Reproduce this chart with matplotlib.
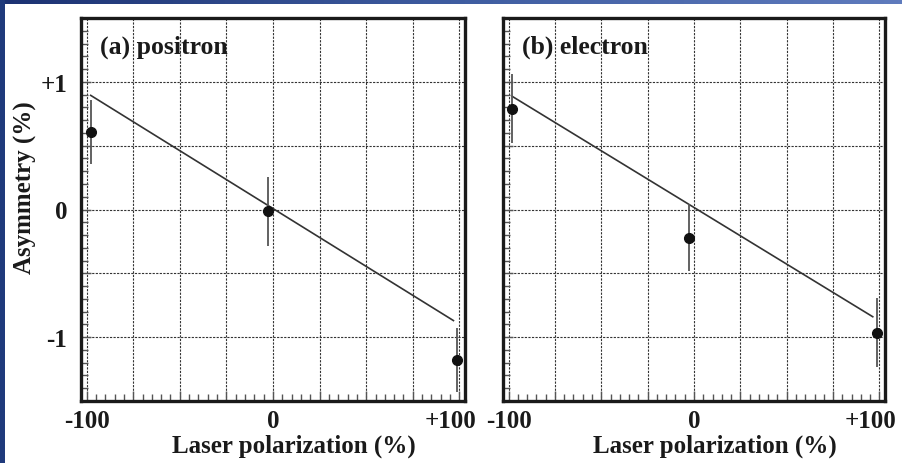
"""Beam-polarization asymmetry vs laser polarization (positron / electron)."""
import matplotlib

matplotlib.use("Agg")
import matplotlib.pyplot as plt  # noqa: E402
import numpy as np  # noqa: E402
from matplotlib.transforms import ScaledTranslation  # noqa: E402
from matplotlib.ticker import FuncFormatter, MultipleLocator, NullFormatter  # noqa: E402

# --------------------------------------------------------------------------- #
# Data
# --------------------------------------------------------------------------- #
panel_labels = ["(a) positron", "(b) electron"]

pol_pos = [-97.8, -2.7, 98.9]
asym_pos = [0.61, -0.015, -1.18]
err_pos = [0.25, 0.27, 0.25]
fit_x_pos = [-97.8, 96.8]
fit_y_pos = [0.894, -0.87]

pol_ele = [-98.0, -2.7, 98.5]
asym_ele = [0.79, -0.22, -0.965]
err_ele = [0.27, 0.26, 0.27]
fit_x_ele = [-98.0, 96.4]
fit_y_ele = [0.886, -0.84]

x_labels = {-100: "-100", 0: "0", 100: "+100"}
y_labels = {-1: "-1", 0: "0", 1: "+1"}

SERIF = ["Liberation Serif", "DejaVu Serif"]
INK = "#1a1a1a"
plt.rcParams.update({
    "font.family": SERIF,
    "font.weight": "bold",
    "axes.labelweight": "bold",
})


def fmt_x(v, _pos):
    return x_labels.get(int(round(v)), "")


def fmt_y(v, _pos):
    if abs(v - round(v)) > 1e-6:
        return ""
    return y_labels.get(int(round(v)), "")


def draw_panel(ax, x, y, err, fx, fy, label, ylabels=True):
    ax.set_xlim(-103, 103)
    ax.set_ylim(-1.5, 1.5)
    ax.xaxis.set_major_locator(MultipleLocator(25))
    ax.xaxis.set_minor_locator(MultipleLocator(5))
    ax.yaxis.set_major_locator(MultipleLocator(0.5))
    ax.yaxis.set_minor_locator(MultipleLocator(0.1))
    ax.xaxis.set_major_formatter(FuncFormatter(fmt_x))
    ax.yaxis.set_major_formatter(FuncFormatter(fmt_y) if ylabels
                                 else NullFormatter())
    ax.tick_params(which="both", direction="in", top=False, right=False,
                   labelsize=18, width=1.0, color="#555555",
                   labelcolor=INK)
    ax.tick_params(which="major", length=7)
    ax.tick_params(which="minor", length=5)
    ax.tick_params(axis="x", pad=6)
    ax.tick_params(axis="y", pad=10)
    ax.grid(True, which="major", color="#333333", lw=0.8,
            ls=(0, (2.0, 1.2)))
    for sp in ax.spines.values():
        sp.set_linewidth(2.4)
        sp.set_color(INK)

    ax.plot(fx, fy, color="#333333", lw=1.2, zorder=3)
    ax.errorbar(x, y, yerr=err, fmt="o", color="#111111", ms=7,
                ecolor="#555555", elinewidth=1.3, capsize=0, zorder=4,
                clip_on=False)
    ax.text(0.05, 0.925, label, transform=ax.transAxes, fontsize=18.5,
            fontweight="bold", va="center", ha="left", color=INK)
    ax.text(0.555, -0.133, "Laser polarization (%)", transform=ax.transAxes,
            fontsize=18, fontweight="bold", ha="center", va="baseline",
            color=INK)


W, H = 902, 464
fig = plt.figure(figsize=(W / 100, H / 100), dpi=100)
fig.patch.set_facecolor("white")

# slide frame: blue strip along the top and left edge
bg = fig.add_axes([0, 0, 1, 1], zorder=-10)
bg.axis("off")
grad = np.linspace(0, 1, 256).reshape(1, -1)
bg.imshow(grad, extent=[0, W, 5, 0], aspect="auto",
          cmap=matplotlib.colors.LinearSegmentedColormap.from_list(
              "frame", ["#1c3272", "#3e5ca0", "#5f7bbd"]))
bg.imshow(np.zeros((2, 2)), extent=[0, 5, H, 0], aspect="auto",
          cmap=matplotlib.colors.ListedColormap(["#1f3a7c"]))
bg.set_xlim(0, W)
bg.set_ylim(H, 0)

ax1 = fig.add_axes([81 / W, 1 - 402 / H, 384 / W, 383 / H])
ax2 = fig.add_axes([503 / W, 1 - 402 / H, 382 / W, 383 / H])

draw_panel(ax1, pol_pos, asym_pos, err_pos, fit_x_pos, fit_y_pos,
           panel_labels[0])
draw_panel(ax2, pol_ele, asym_ele, err_ele, fit_x_ele, fit_y_ele,
           panel_labels[1], ylabels=False)

fig.text(25 / W, 1 - 188 / H, "Asymmetry (%)", rotation=90, fontsize=18,
         fontweight="bold", ha="center", va="center", color=INK)

# the "+100" labels sit a little left of their tick in the original
fig.canvas.draw()
nudge = ScaledTranslation(-9 / 100, 0, fig.dpi_scale_trans)
for ax in (ax1, ax2):
    for tick in ax.xaxis.get_major_ticks():
        if tick.label1.get_text() == "+100":
            tick.label1.set_transform(tick.label1.get_transform() + nudge)

fig.savefig("out.png", dpi=100)
